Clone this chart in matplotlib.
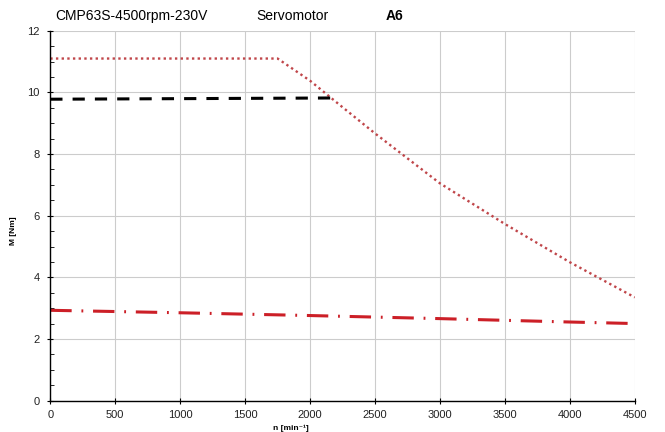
import numpy as np
import matplotlib.pyplot as plt
from matplotlib.ticker import MultipleLocator

plt.rcParams['font.family'] = ['Liberation Sans', 'DejaVu Sans']

# Max torque curve (dotted)
n_max = [0, 1750, 2000, 2250, 2500, 3000, 3500, 4000, 4500]
m_max = [11.1, 11.1, 10.38, 9.52, 8.67, 7.05, 5.73, 4.49, 3.35]

# Dynamic limit (dashed)
n_dyn = [0, 2170]
m_dyn = [9.78, 9.82]

# Continuous torque (dash-dot)
n_cont = [0, 1000, 2000, 3000, 4000, 4500]
m_cont = [2.93, 2.85, 2.76, 2.66, 2.55, 2.50]

fig = plt.figure(figsize=(6.65, 4.32), dpi=100)
ax = fig.add_axes([0.0756, 0.0727, 0.879, 0.856])

ax.plot(n_max, m_max, color='#c0464a', linestyle=(0, (1, 1.4)), linewidth=1.7)
ax.plot(n_dyn, m_dyn, color='black', linestyle=(0, (4, 3.3)), linewidth=2.2,
        dash_capstyle='butt')
ax.plot(n_cont, m_cont, color='#cc1f27', linestyle=(0, (7, 3.2, 0.6, 3.2)),
        linewidth=2.2, dash_capstyle='butt')

ax.set_xlim(0, 4500)
ax.set_ylim(0, 12)
ax.xaxis.set_major_locator(MultipleLocator(500))
ax.yaxis.set_major_locator(MultipleLocator(2))
ax.yaxis.set_minor_locator(MultipleLocator(0.5))
ax.grid(True, which='major', color='#cccccc', linewidth=0.8)
ax.set_axisbelow(True)

for s in ['top', 'right']:
    ax.spines[s].set_visible(False)
for s in ['left', 'bottom']:
    ax.spines[s].set_color('black')
    ax.spines[s].set_linewidth(1.0)

ax.tick_params(axis='both', which='major', direction='inout', length=5,
               labelsize=8, colors='black', labelcolor='#222222', pad=5)
ax.tick_params(axis='x', which='major', pad=4.5)
ax.tick_params(axis='y', which='minor', direction='in', length=3)

fig.text(13.5 / 665, 1 - 231 / 432, 'M [Nm]', fontsize=6, fontweight='bold',
         rotation=90, ha='center', va='center')
fig.text(291 / 665, 1 - 429.5 / 432, 'n [min\u207b\u00b9]', fontsize=6,
         fontweight='bold', ha='center', va='baseline')

fig.text(55 / 665, 1 - 20 / 432, 'CMP63S-4500rpm-230V', fontsize=10, va='baseline')
fig.text(256 / 665, 1 - 20 / 432, 'Servomotor', fontsize=10, va='baseline')
fig.text(386 / 665, 1 - 20 / 432, 'A6', fontsize=10, fontweight='bold', va='baseline')

fig.savefig('out.png', dpi=100)
